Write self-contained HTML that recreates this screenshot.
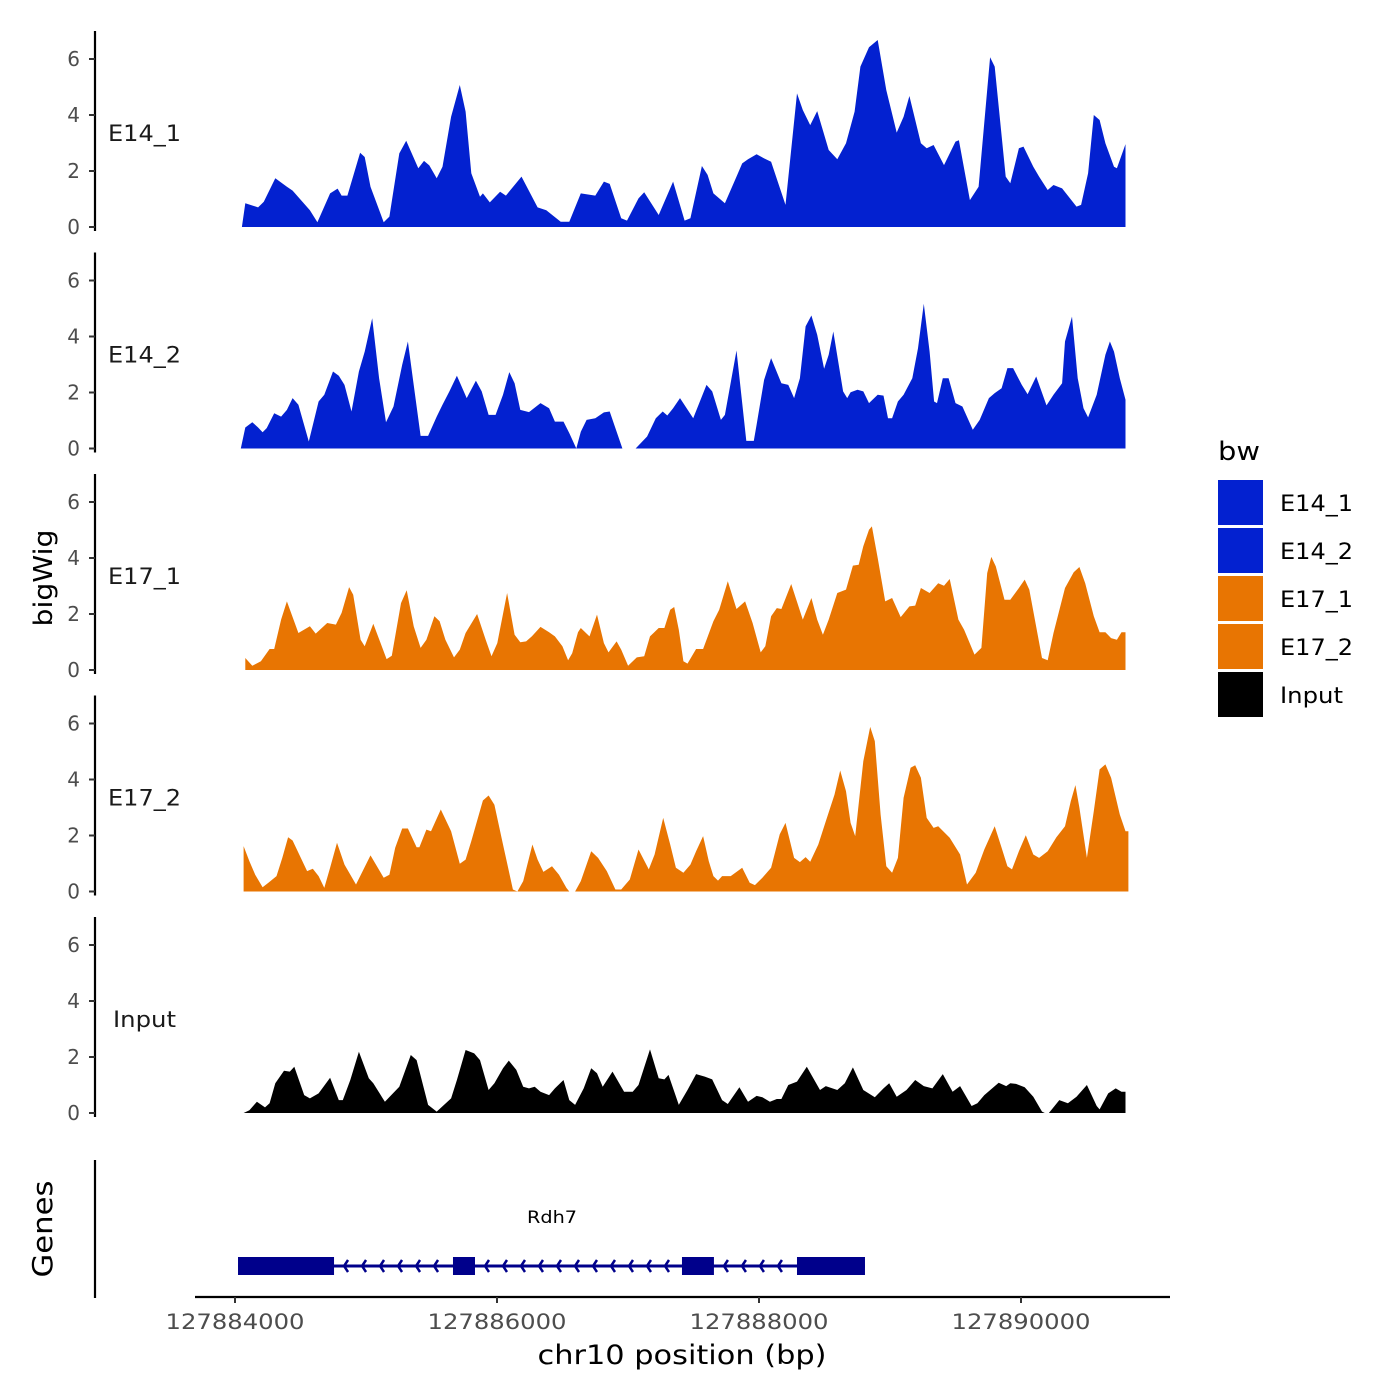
<!DOCTYPE html>
<html><head><meta charset="utf-8"><style>
html,body{margin:0;padding:0;background:#fff;}
svg{display:block;font-family:"DejaVu Sans","Liberation Sans",sans-serif;}
</style></head><body>
<svg id="chart" width="1400" height="1400" viewBox="0 0 1400 1400" xmlns="http://www.w3.org/2000/svg">
<rect width="1400" height="1400" fill="#fff"/>
<text x="0" y="0" transform="translate(52,578) rotate(-90)" text-anchor="middle" font-size="26" textLength="97" lengthAdjust="spacingAndGlyphs" fill="#000">bigWig</text>
<text x="0" y="0" transform="translate(52,1229) rotate(-90)" text-anchor="middle" font-size="28" textLength="97" lengthAdjust="spacingAndGlyphs" fill="#000">Genes</text>
<text x="682" y="1364" text-anchor="middle" font-size="27" textLength="289" lengthAdjust="spacingAndGlyphs" fill="#000">chr10 position (bp)</text>
<g>
<text x="1218" y="460" font-size="26" textLength="42" lengthAdjust="spacingAndGlyphs" fill="#000">bw</text>
</g>
</svg>
<script>
const START = 127884000;
const tracks = ["E14_1","E14_2","E17_1","E17_2","Input"];
const trackColors = ["#0321d0","#0321d0","#e87502","#e87502","#000000"];
const yTicks = [0,2,4,6];
const xTicks = [127884000,127886000,127888000,127890000];

const e14_1_pos = [53,79,176,220,308,396,440,572,629,726,783,814,858,955,990,1034,1135,1179,1254,1307,1399,1443,1483,1540,1584,1650,1716,1760,1804,1870,1892,1945,2024,2068,2134,2187,2310,2376,2486,2552,2640,2750,2816,2860,2948,2992,3080,3124,3234,3344,3432,3476,3564,3608,3652,3740,3828,3872,3916,3982,4039,4092,4202,4290,4334,4391,4444,4532,4598,4664,4730,4774,4840,4906,4972,5051,5104,5148,5236,5280,5333,5412,5500,5526,5610,5676,5764,5799,5883,5918,5984,6019,6094,6138,6204,6248,6314,6424,6459,6512,6556,6600,6644,6710,6732,6798];
const e14_1_val = [0,0.85,0.7,0.9,1.74,1.44,1.3,0.6,0.17,1.2,1.37,1.12,1.12,2.65,2.5,1.44,0.17,0.37,2.63,3.08,2.1,2.36,2.2,1.74,2.15,3.94,5.07,4.12,1.92,1.08,1.2,0.88,1.26,1.12,1.5,1.8,0.7,0.6,0.19,0.19,1.2,1.12,1.62,1.54,0.31,0.23,1.02,1.24,0.43,1.62,0.23,0.31,2.18,1.86,1.2,0.85,1.8,2.27,2.42,2.6,2.45,2.33,0.79,4.77,4.18,3.64,4.14,2.75,2.42,2.99,4.12,5.73,6.42,6.68,4.89,3.37,3.94,4.68,2.99,2.81,2.93,2.21,3.05,3.1,0.96,1.44,6.06,5.73,1.8,1.56,2.81,2.87,2.15,1.8,1.32,1.5,1.38,0.73,0.79,1.92,4.0,3.82,2.99,2.15,2.1,2.96];

const e14_2_pos = [44,79,132,176,211,242,299,352,396,440,484,563,638,682,748,792,836,889,946,990,1047,1100,1153,1210,1276,1320,1364,1417,1474,1540,1584,1637,1694,1769,1839,1883,1936,1989,2046,2094,2134,2178,2244,2332,2398,2442,2508,2552,2605,2640,2684,2750,2816,2860,2904,2957,3058,3146,3212,3265,3300,3344,3397,3498,3599,3643,3709,3740,3828,3903,3960,3982,4039,4092,4171,4224,4268,4312,4356,4400,4444,4497,4532,4567,4642,4673,4699,4752,4796,4840,4906,4950,4985,5016,5060,5104,5170,5214,5258,5302,5337,5359,5403,5447,5500,5553,5632,5685,5755,5799,5852,5896,5940,6006,6050,6116,6195,6248,6314,6336,6389,6433,6477,6512,6578,6644,6679,6710,6754,6798];
const e14_2_val = [0,0.75,0.94,0.75,0.58,0.73,1.26,1.14,1.38,1.8,1.56,0.25,1.68,1.92,2.75,2.6,2.27,1.32,2.75,3.46,4.65,2.51,0.94,1.5,2.99,3.82,2.27,0.45,0.45,1.14,1.56,2.04,2.6,1.8,2.42,2.04,1.2,1.2,1.92,2.73,2.33,1.38,1.3,1.62,1.44,0.96,0.96,0.55,0,0.6,1.02,1.08,1.29,1.32,0.73,0,0,0.43,1.08,1.32,1.18,1.44,1.8,1.08,2.27,2.04,1.02,1.2,3.5,0.27,0.27,0.85,2.45,3.23,2.33,2.27,1.8,2.51,4.36,4.75,4.06,2.85,3.35,4.18,2.04,1.8,2.01,2.1,2.04,1.62,1.92,1.89,1.08,1.08,1.68,1.92,2.51,3.58,5.17,3.46,1.68,1.62,2.51,2.51,1.62,1.5,0.67,1.02,1.8,1.98,2.15,2.87,2.87,2.27,1.94,2.57,1.54,1.92,2.33,3.82,4.71,2.51,1.44,1.11,1.92,3.35,3.82,3.46,2.51,1.74];

const e17_1_pos = [79,132,198,264,299,352,396,484,572,616,704,770,814,871,902,959,990,1056,1157,1197,1267,1311,1364,1417,1461,1522,1562,1606,1672,1716,1760,1848,1914,1958,2002,2077,2134,2178,2222,2266,2332,2398,2442,2499,2543,2574,2618,2640,2706,2763,2816,2851,2913,2948,3001,3067,3124,3168,3234,3278,3322,3353,3388,3423,3454,3520,3573,3652,3696,3762,3828,3894,3951,4013,4048,4092,4136,4171,4246,4334,4400,4444,4488,4532,4598,4664,4717,4761,4796,4840,4862,4906,4963,5016,5082,5148,5192,5236,5302,5368,5412,5456,5522,5566,5645,5698,5742,5773,5808,5874,5918,5984,6028,6063,6160,6204,6248,6336,6402,6446,6490,6556,6600,6644,6688,6732,6767,6798];
const e17_1_val = [0.43,0.15,0.31,0.75,0.75,1.8,2.45,1.32,1.56,1.3,1.68,1.62,2.04,2.96,2.69,1.08,0.85,1.65,0.39,0.51,2.39,2.85,1.56,0.79,1.08,1.92,1.74,1.08,0.45,0.73,1.32,2.0,1.08,0.49,0.96,2.75,1.26,0.99,1.02,1.2,1.54,1.35,1.2,0.85,0.35,0.6,1.35,1.5,1.2,1.98,0.96,0.63,1.02,0.73,0.15,0.45,0.49,1.2,1.5,1.5,2.15,2.25,1.44,0.31,0.23,0.75,0.75,1.74,2.15,3.17,2.18,2.45,1.68,0.63,0.85,1.92,2.21,2.18,3.07,1.8,2.57,1.8,1.26,1.8,2.75,2.87,3.73,3.76,4.42,5.01,5.13,4.0,2.45,2.57,1.89,2.27,2.3,2.93,2.75,3.1,3.01,3.25,1.8,1.44,0.55,0.79,3.46,4.04,3.7,2.51,2.51,2.93,3.23,2.87,0.43,0.35,1.32,2.93,3.49,3.68,3.1,1.92,1.35,1.35,1.14,1.08,1.35,1.35];

const e17_2_pos = [66,110,154,211,255,317,361,405,440,550,594,638,682,726,779,836,924,1034,1135,1179,1223,1276,1320,1386,1408,1461,1496,1571,1650,1716,1760,1804,1892,1936,1980,2046,2121,2156,2200,2270,2310,2354,2420,2473,2530,2552,2596,2640,2719,2772,2838,2904,2948,3014,3080,3159,3203,3269,3322,3366,3423,3476,3520,3573,3617,3652,3687,3718,3784,3872,3929,3969,4026,4092,4158,4202,4268,4312,4356,4391,4453,4510,4576,4620,4664,4699,4734,4796,4849,4884,4928,4972,5016,5060,5104,5157,5192,5236,5280,5333,5368,5456,5535,5588,5654,5720,5799,5852,5896,5931,5984,6037,6094,6138,6204,6270,6336,6380,6415,6446,6503,6556,6600,6644,6688,6754,6798,6820];
const e17_2_val = [1.62,1.08,0.6,0.15,0.31,0.55,1.2,1.94,1.82,0.73,0.81,0.55,0.13,0.85,1.74,0.96,0.25,1.29,0.49,0.6,1.56,2.25,2.25,1.58,1.58,2.21,2.15,2.93,2.15,0.99,1.14,1.8,3.25,3.43,3.1,1.68,0.07,0,0.37,1.68,1.14,0.7,0.9,0.6,0.13,0,0,0.37,1.44,1.2,0.73,0.07,0.07,0.43,1.5,0.79,1.32,2.63,1.68,0.85,0.67,0.96,1.44,1.98,1.08,0.55,0.39,0.55,0.55,0.85,0.31,0.23,0.49,0.85,2.04,2.45,1.2,1.05,1.23,1.06,1.68,2.51,3.46,4.32,3.58,2.45,1.98,4.65,5.88,5.37,2.75,0.9,0.67,1.2,3.35,4.42,4.51,4.06,2.63,2.27,2.33,1.92,1.32,0.25,0.67,1.5,2.33,1.56,0.9,0.79,1.44,2.01,1.32,1.2,1.44,1.94,2.33,3.23,3.8,2.99,1.2,2.87,4.36,4.54,4.06,2.75,2.15,2.15];

const input_pos = [66,110,167,229,264,308,374,418,453,528,572,638,726,792,823,880,946,1021,1056,1144,1254,1342,1386,1474,1540,1650,1694,1760,1826,1870,1936,1980,2046,2090,2147,2200,2244,2288,2332,2398,2442,2508,2552,2596,2662,2719,2763,2807,2882,2970,3036,3080,3168,3234,3278,3309,3388,3454,3520,3586,3643,3718,3762,3850,3916,3982,4026,4083,4136,4171,4224,4290,4365,4466,4510,4598,4655,4717,4796,4884,4950,4994,5051,5126,5192,5258,5324,5403,5478,5535,5623,5667,5720,5830,5887,5918,5962,6028,6094,6160,6182,6213,6292,6358,6424,6503,6578,6600,6666,6723,6767,6798];
const input_val = [0,0.1,0.4,0.2,0.35,1.06,1.51,1.48,1.65,0.64,0.52,0.7,1.26,0.46,0.46,1.18,2.19,1.24,1.06,0.4,0.94,2.07,1.89,0.29,0.05,0.52,1.18,2.25,2.13,1.89,0.82,1.06,1.6,1.87,1.54,0.94,0.88,0.94,0.76,0.64,0.88,1.18,0.46,0.29,0.88,1.6,1.42,0.94,1.48,0.76,0.76,1.0,2.27,1.24,1.2,1.36,0.29,0.82,1.39,1.3,1.2,0.46,0.32,0.92,0.4,0.61,0.56,0.4,0.5,0.5,1.0,1.12,1.65,0.82,0.96,0.82,1.06,1.63,0.82,0.56,0.88,1.06,0.58,0.82,1.18,0.96,0.88,1.39,0.76,0.96,0.25,0.35,0.64,1.08,0.96,1.06,1.04,0.92,0.58,0.05,0,0,0.46,0.35,0.58,1.0,0.25,0.13,0.7,0.88,0.76,0.76];

const geneName = "Rdh7";
const geneStart = 23, geneEnd = 4809;
const exonStarts = [23,1664,3412,4290];
const exonEnds = [756,1832,3656,4809];

const seriesPos = [e14_1_pos,e14_2_pos,e17_1_pos,e17_2_pos,input_pos];
const seriesVal = [e14_1_val,e14_2_val,e17_1_val,e17_2_val,input_val];

const NS = "http://www.w3.org/2000/svg";
const svg = document.getElementById('chart');
function mk(tag, attrs, parent){const e=document.createElementNS(NS,tag);for(const k in attrs)e.setAttribute(k,attrs[k]);(parent||svg).appendChild(e);return e;}
function xScale(bp){return 235 + bp * 0.131;}
function xScaleAbs(b){return 235 + (b - START) * 0.131;}
const panelZero = [227,448.5,670,891.5,1113];
function yScale(p,v){return panelZero[p] - v*28;}

tracks.forEach((name,p)=>{
  const g = mk('g',{});
  
  
  const z = panelZero[p];
  const axis = mk('line',{x1:95,x2:95,y1:z-196,y2:z+4,stroke:'#000','stroke-width':2.2},g);
  
  
  yTicks.forEach(t=>{
    const y=yScale(p,t);
    const tk = mk('line',{x1:89,x2:95,y1:y,y2:y,stroke:'#333','stroke-width':2},g);
    
    
    const tl = mk('text',{x:80,y:y+7,'text-anchor':'end','font-size':20,fill:'#4d4d4d'},g);
    tl.textContent = t;
    
    
  });
  const isInput = name === 'Input';
  const lbl = mk('text',{x:144.5,y:z-86,'text-anchor':'middle','font-size':22,fill:'#1a1a1a',textLength:isInput?63:73,lengthAdjust:'spacingAndGlyphs'},g);
  lbl.textContent = name;
  
  
  const pos = seriesPos[p], val = seriesVal[p];
  let d = 'M'+xScale(pos[0]).toFixed(1)+','+z;
  for(let i=0;i<pos.length;i++) d += 'L'+xScale(pos[i]).toFixed(1)+','+yScale(p,val[i]).toFixed(1);
  d += 'L'+xScale(pos[pos.length-1]).toFixed(1)+','+z+'Z';
  const area = mk('path',{d:d,fill:trackColors[p]},g);
  
  

  const ly = 480 + p*48;
  const key = mk('rect',{x:1218,y:ly,width:45,height:45,fill:trackColors[p]});
  
  
  const lt = mk('text',{x:1280,y:ly+31,'font-size':22,fill:'#000',textLength:isInput?63:73,lengthAdjust:'spacingAndGlyphs'});
  lt.textContent = name;
  
  
});

const gAxis = mk('line',{x1:95,x2:95,y1:1160,y2:1298,stroke:'#000','stroke-width':2.2});


const xAxis = mk('line',{x1:195,x2:1170,y1:1297,y2:1297,stroke:'#000','stroke-width':2.2});


xTicks.forEach(t=>{
  const x = xScaleAbs(t);
  const tk = mk('line',{x1:x,x2:x,y1:1297,y2:1303,stroke:'#333','stroke-width':2});
  
  
  const tl = mk('text',{x:x,y:1329,'text-anchor':'middle','font-size':21,fill:'#4d4d4d',textLength:139,lengthAdjust:'spacingAndGlyphs'});
  tl.textContent = t;
  
  
});
const gc = '#00008b';
const gl = mk('line',{x1:xScale(geneStart),x2:xScale(geneEnd),y1:1266,y2:1266,stroke:gc,'stroke-width':3});


for(let i=0;i<exonStarts.length-1;i++){
  const a = xScale(exonEnds[i]), b = xScale(exonStarts[i+1]);
  for(let x=a+10; x<b-4; x+=18){
    const c = mk('path',{d:`M${x+4},${1260}L${x},${1266}L${x+4},${1272}`,stroke:gc,'stroke-width':2.5,fill:'none'});
    
    
  }
}
exonStarts.forEach((s,i)=>{
  const e = mk('rect',{x:xScale(s),y:1257,width:xScale(exonEnds[i])-xScale(s),height:18,fill:gc});
  
  
});
const gn = mk('text',{x:552,y:1223,'text-anchor':'middle','font-size':17,fill:'#000',textLength:50,lengthAdjust:'spacingAndGlyphs'});
gn.textContent = geneName;


</script>
</body></html>
